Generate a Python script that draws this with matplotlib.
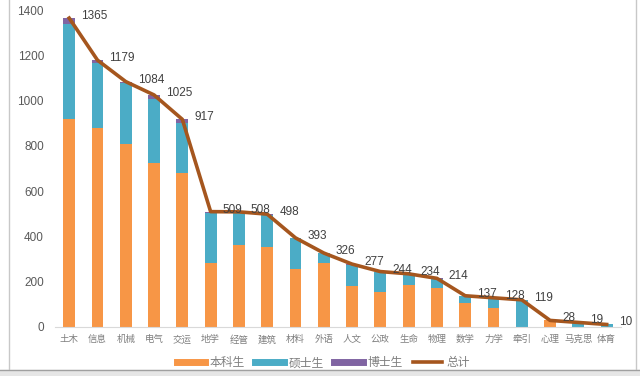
import matplotlib
matplotlib.use("Agg")
import matplotlib.pyplot as plt
from matplotlib.lines import Line2D
from matplotlib.patches import Rectangle
import numpy as np

plt.rcParams['font.family'] = ['Liberation Sans', 'Noto Sans CJK SC', 'DejaVu Sans']

categories = ["土木", "信息", "机械", "电气", "交运", "地学", "经管", "建筑", "材料", "外语",
              "人文", "公政", "生命", "物理", "数学", "力学", "牵引", "心理", "马克思", "体育"]
undergrad = [920, 880, 810, 725, 681, 283, 361, 351, 254, 283,
             180, 155, 184, 170, 106, 81, 0, 28, 0, 0]
master = [420, 285, 268, 280, 218, 221, 142, 143, 137, 42,
          95, 87, 48, 42, 30, 46, 119, 0, 17, 10]
doctor = [25, 14, 6, 20, 18, 5, 5, 4, 2, 1,
          2, 2, 2, 2, 1, 1, 0, 0, 2, 0]
totals = [1365, 1179, 1084, 1025, 917, 509, 508, 498, 393, 326,
          277, 244, 234, 214, 137, 128, 119, 28, 19, 10]
series_names = ["本科生", "硕士生", "博士生", "总计"]
yticks = [0, 200, 400, 600, 800, 1000, 1200, 1400]

c_ug = "#F79646"
c_ms = "#4BACC6"
c_dr = "#8064A2"
c_line = "#A5561E"

fig = plt.figure(figsize=(6.4, 3.76), dpi=100)
ax = fig.add_axes([0.086, 0.131, 0.884, 0.842])

x = np.arange(len(categories))
u = np.array(undergrad)
m = np.array(master)
d = np.array(doctor)
w = 0.42
ax.bar(x, u, w, color=c_ug, label=series_names[0])
ax.bar(x, m, w, bottom=u, color=c_ms, label=series_names[1])
ax.bar(x, d, w, bottom=u + m, color=c_dr, label=series_names[2])
ax.plot(x, totals, color=c_line, lw=2.6, label=series_names[3], solid_joinstyle='round')

for xi, t in zip(x, totals):
    ax.annotate(str(t), (xi, t), xytext=(12, 2), textcoords='offset pixels',
                fontsize=8.5, color="#404040", ha='left', va='center')

ax.set_xlim(-0.5, len(categories) - 0.5)
ax.set_ylim(0, 1400)
ax.set_yticks(yticks)
ax.set_yticklabels([str(v) for v in yticks], fontsize=8.5, color="#595959")
ax.set_xticks(x)
ax.set_xticklabels(categories, fontsize=6.8, color="#7F7F7F",
                   family=['Noto Sans CJK SC', 'DejaVu Sans'])
ax.tick_params(axis='both', length=0)
ax.tick_params(axis='y', pad=8)
ax.tick_params(axis='x', pad=6)
for s in ['top', 'right', 'left']:
    ax.spines[s].set_visible(False)
ax.spines['bottom'].set_color("#D9D9D9")
ax.spines['bottom'].set_linewidth(0.8)

handles = [Line2D([0], [0], color=c_ug, lw=5),
           Line2D([0], [0], color=c_ms, lw=5),
           Line2D([0], [0], color=c_dr, lw=5),
           Line2D([0], [0], color=c_line, lw=2.6)]
leg = fig.legend(handles, series_names, loc='center', bbox_to_anchor=(0.505, 0.035),
                 ncol=4, frameon=False, handlelength=2.4,
                 columnspacing=0.9, handletextpad=0.4,
                 prop={'family': ['Noto Sans CJK SC', 'DejaVu Sans'], 'size': 8.5})
for t in leg.get_texts():
    t.set_color("#7F7F7F")

# window frame
fig.add_artist(Line2D([9/640, 9/640], [6/376, 1], transform=fig.transFigure, color="#C8C8C8", lw=1))
fig.add_artist(Line2D([636/640, 636/640], [6/376, 1], transform=fig.transFigure, color="#C8C8C8", lw=1))
fig.add_artist(Rectangle((0, 0), 1, 6/376, transform=fig.transFigure, color="#E6E6E6", zorder=5))
fig.add_artist(Line2D([0, 1], [6/376, 6/376], transform=fig.transFigure, color="#A0A0A0", lw=1, zorder=6))

fig.savefig("out.png", dpi=100)
